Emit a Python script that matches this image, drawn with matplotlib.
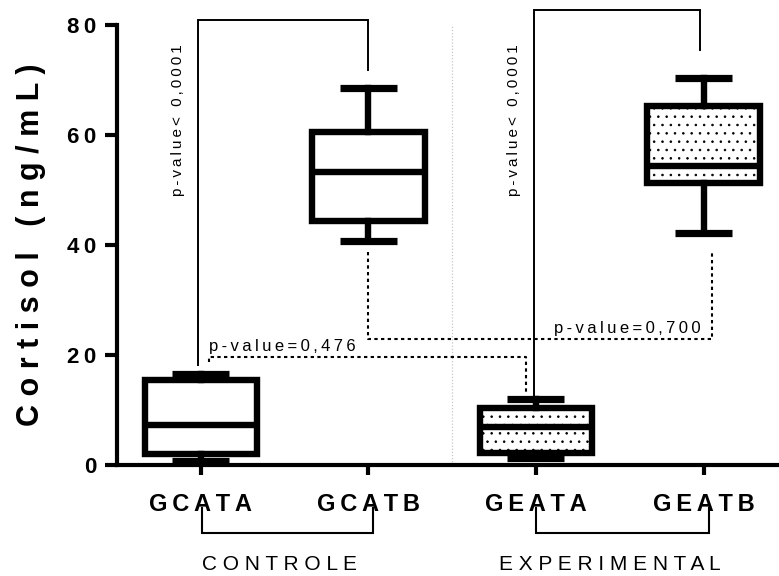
import matplotlib
matplotlib.use("Agg")
import matplotlib.pyplot as plt
import matplotlib.transforms as mtransforms

# ---- data ----
categories = ["GCATA", "GCATB", "GEATA", "GEATB"]
group_names = ["CONTROLE", "EXPERIMENTAL"]
whisker_low = [0.8, 40.7, 1.3, 42.2]
q1 = [2.0, 44.4, 2.2, 51.2]
medians = [7.3, 53.3, 6.9, 54.3]
q3 = [15.4, 60.6, 10.4, 65.2]
whisker_high = [16.6, 68.5, 12.0, 70.4]
hatched = [False, False, True, True]
p_labels = ["p-value< 0,0001", "p-value< 0,0001", "p-value=0,476", "p-value=0,700"]
y_ticks = [0, 20, 40, 60, 80]
y_label = "Cortisol (ng/mL)"

FAM = ["Liberation Sans", "DejaVu Sans"]
plt.rcParams["font.family"] = FAM
THIN = "\u2009"


def spaced(s, sep=" "):
    return sep.join(s)


fig = plt.figure(figsize=(7.79, 5.76), dpi=100)
ax = fig.add_axes([117 / 779, 1 - 465 / 576, 1 - 117 / 779, 440 / 576])

positions = list(range(1, len(categories) + 1))
stats = []
for i, c in enumerate(categories):
    stats.append(dict(label=c, whislo=whisker_low[i], q1=q1[i], med=medians[i],
                      q3=q3[i], whishi=whisker_high[i], fliers=[]))

plt.rcParams["hatch.linewidth"] = 0.6
bp = ax.bxp(stats, positions=positions, widths=0.67, capwidths=0.34,
            showfliers=False, patch_artist=True,
            boxprops=dict(linewidth=4.6, facecolor="white", edgecolor="black"),
            whiskerprops=dict(linewidth=4.6, color="black"),
            capprops=dict(linewidth=5.2, color="black", solid_capstyle="butt"),
            medianprops=dict(linewidth=4.6, color="black", solid_capstyle="butt"))
for patch, h in zip(bp["boxes"], hatched):
    patch.set_joinstyle("miter")
    if h:
        patch.set_hatch("..")

ax.set_xlim(0.5, 4.45)
ax.set_ylim(0, 80)

# spines / ticks
for s in ["top", "right"]:
    ax.spines[s].set_visible(False)
ax.spines["left"].set_linewidth(3)
ax.spines["bottom"].set_linewidth(3)
ax.spines["left"].set_bounds(0, 80)
ax.set_yticks(y_ticks)
ax.set_yticklabels([spaced(str(v), THIN) for v in y_ticks], fontsize=16, fontweight="bold")
ax.set_xticks(positions)
ax.set_xticklabels([spaced(c, THIN) for c in categories], fontsize=17, fontweight="bold")
ax.tick_params(axis="y", length=9, width=3, pad=6)
ax.tick_params(axis="x", length=7.5, width=3, pad=13)

ax.set_ylabel(spaced(y_label), fontsize=22, fontweight="bold")
ax.yaxis.set_label_coords(-0.108, 0.5)

# separator
ax.plot([2.5, 2.5], [0, 80], color="#c8c8c8", lw=0.9, ls=(0, (1, 1.5)), clip_on=False, zorder=0)

# solid brackets (p < 0,0001)
ax.plot([0.982, 0.982, 2.0, 2.0], [18.2, 80.9, 80.9, 71.8], color="black", lw=1.4,
        clip_on=False, solid_joinstyle="miter")
ax.plot([2.99, 2.99, 3.98, 3.98], [12.7, 82.7, 82.7, 75.5], color="black", lw=1.4,
        clip_on=False, solid_joinstyle="miter")
ax.text(0.863, 62.7, spaced(p_labels[0], THIN), rotation=90, ha="center", va="center", fontsize=11)
ax.text(2.87, 62.7, spaced(p_labels[1], THIN), rotation=90, ha="center", va="center", fontsize=11)

# dotted brackets
dot = (0, (1.6, 1.6))
ax.plot([1.05, 1.05, 2.94, 2.94], [18.7, 19.6, 19.6, 12.7], color="black", lw=1.5, ls=dot,
        clip_on=False)
ax.text(1.05, 20.7, spaced(p_labels[2], THIN), ha="left", va="baseline", fontsize=12)
ax.plot([2.0, 2.0, 4.05, 4.05], [38.7, 23.0, 23.0, 38.7], color="black", lw=1.5, ls=dot,
        clip_on=False)
ax.text(3.98, 24.0, spaced(p_labels[3], THIN), ha="right", va="baseline", fontsize=12)

# group brackets below the axis
trans = mtransforms.blended_transform_factory(ax.transData, ax.transAxes)
for (xa, xb), name, xc in zip([(1.006, 2.03), (3.0, 4.03)], group_names, [1.47, 3.44]):
    ax.plot([xa, xa, xb, xb], [-0.098, -0.155, -0.155, -0.098], color="black", lw=1.5,
            transform=trans, clip_on=False, solid_joinstyle="miter")
    ax.text(xc, -0.225, spaced(name), transform=trans, ha="center", va="center", fontsize=15)

fig.savefig("out.png", dpi=100)
